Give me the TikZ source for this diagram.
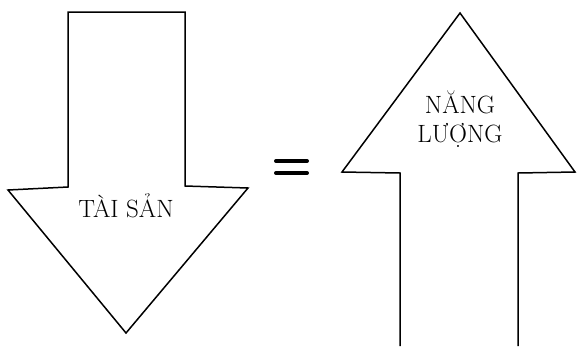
\documentclass[tikz,border=0pt]{standalone}
\begin{document}
\begin{tikzpicture}[x=1pt,y=-1pt,
  arrowshape/.style={draw=black,line width=1.5pt,line join=miter,fill=white},
  label/.style={font=\fontsize{25}{30}\selectfont,anchor=base,inner sep=0pt},
  eqbar/.style={line width=4pt,line cap=round}]
\useasboundingbox (0,0) rectangle (577,346);
% left arrow (down)
\draw[arrowshape] (68,12) -- (185,12) -- (185,186) -- (248,188) -- (126,333) -- (8,190) -- (68,187) -- cycle;
% right arrow (up), open at the bottom
\draw[arrowshape] (400,346) -- (400,173) -- (342,172) -- (460,13) -- (575,172) -- (518,173) -- (518,346);
% equals sign
\coordinate (e1a) at (276,161); \coordinate (e1b) at (307,161);
\coordinate (e2a) at (276,173); \coordinate (e2b) at (307,173);
\draw[eqbar] (e1a) -- (e1b);
\draw[eqbar] (e2a) -- (e2b);
% labels
\node[label] (taisan) at (126,217) {TÀI SẢN};
\node[label] (nang) at (460,113) {NĂNG};
\node[label] (luong) at (460,142) {LƯỢNG};
\end{tikzpicture}
\end{document}
